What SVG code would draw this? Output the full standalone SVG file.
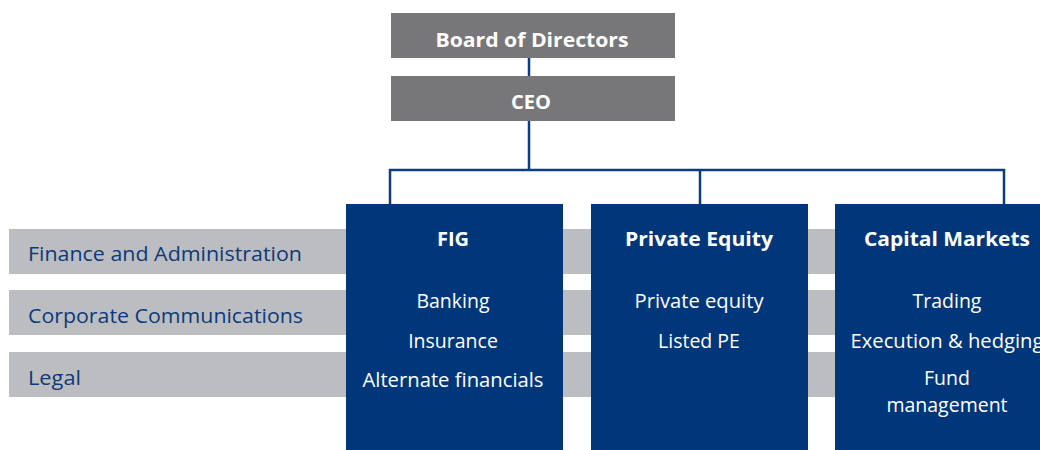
<svg xmlns="http://www.w3.org/2000/svg" width="1040" height="450" viewBox="0 0 1040 450">
  <style>
    .exec { fill: #77777a; }
    .unit { fill: #00377a; }
    .band { fill: #bcbdc0; }
    .link { stroke: #0d3d80; stroke-width: 2.5; fill: none; }
    .exec-t { font-family: "Open Sans", "Noto Sans", sans-serif; font-weight: 700; font-size: 20px; fill: #ffffff; text-anchor: middle; }
    .unit-h { font-family: "Open Sans", "Noto Sans", sans-serif; font-weight: 700; font-size: 20px; fill: #ffffff; text-anchor: middle; }
    .unit-t { font-family: "Open Sans", "Noto Sans", sans-serif; font-size: 19.5px; fill: #ffffff; text-anchor: middle; }
    .band-t { font-family: "Open Sans", "Noto Sans", sans-serif; font-size: 20.5px; fill: #0b3a7c; }
  </style>

  <!-- support function bands running behind the business units -->
  <g id="support-functions">
    <g id="finance-admin">
      <rect class="band" x="9" y="229" width="831" height="45"/>
      <text class="band-t" x="28" y="261" textLength="274" lengthAdjust="spacingAndGlyphs">Finance and Administration</text>
    </g>
    <g id="corporate-comms">
      <rect class="band" x="9" y="290" width="831" height="45"/>
      <text class="band-t" x="28" y="323" textLength="275" lengthAdjust="spacingAndGlyphs">Corporate Communications</text>
    </g>
    <g id="legal">
      <rect class="band" x="9" y="352" width="831" height="45"/>
      <text class="band-t" x="28" y="385" textLength="53" lengthAdjust="spacingAndGlyphs">Legal</text>
    </g>
  </g>

  <!-- reporting lines -->
  <g id="connectors">
    <path class="link" d="M529 58 V76"/>
    <path class="link" d="M529 121 V170"/>
    <path class="link" d="M390 204 V170 H1004 V204"/>
    <path class="link" d="M700 170 V204"/>
  </g>

  <g id="board">
    <rect class="exec" x="391" y="13" width="284" height="45"/>
    <text class="exec-t" x="532" y="47" textLength="193" lengthAdjust="spacingAndGlyphs">Board of Directors</text>
  </g>

  <g id="ceo">
    <rect class="exec" x="391" y="76" width="284" height="45"/>
    <text class="exec-t" x="531" y="109">CEO</text>
  </g>

  <g id="fig">
    <rect class="unit" x="346" y="204" width="217" height="246"/>
    <text class="unit-h" x="453" y="246">FIG</text>
    <text class="unit-t" x="453" y="308">Banking</text>
    <text class="unit-t" x="453" y="348">Insurance</text>
    <text class="unit-t" x="453" y="387" textLength="181" lengthAdjust="spacingAndGlyphs">Alternate financials</text>
  </g>

  <g id="private-equity">
    <rect class="unit" x="591" y="204" width="217" height="246"/>
    <text class="unit-h" x="699" y="246" textLength="148" lengthAdjust="spacingAndGlyphs">Private Equity</text>
    <text class="unit-t" x="699" y="308" textLength="129" lengthAdjust="spacingAndGlyphs">Private equity</text>
    <text class="unit-t" x="699" y="348">Listed PE</text>
  </g>

  <g id="capital-markets">
    <rect class="unit" x="835" y="204" width="217" height="246"/>
    <text class="unit-h" x="947" y="246" textLength="166" lengthAdjust="spacingAndGlyphs">Capital Markets</text>
    <text class="unit-t" x="947" y="308">Trading</text>
    <text class="unit-t" x="947" y="348" textLength="193" lengthAdjust="spacingAndGlyphs">Execution &amp; hedging</text>
    <text class="unit-t" x="947" y="385">Fund</text>
    <text class="unit-t" x="947" y="412">management</text>
  </g>
</svg>
